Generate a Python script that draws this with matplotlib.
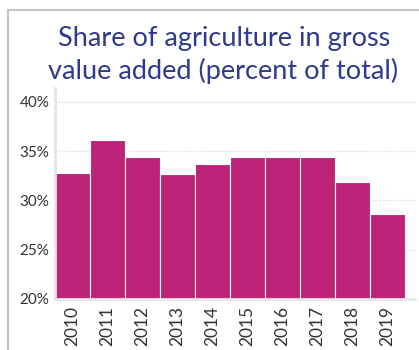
import matplotlib.pyplot as plt
from matplotlib.lines import Line2D

years = ["2010", "2011", "2012", "2013", "2014", "2015", "2016", "2017", "2018", "2019"]
share = [32.8, 36.1, 34.4, 32.7, 33.7, 34.4, 34.4, 34.4, 31.9, 28.6]
yticks = [20, 25, 30, 35, 40]

W, H = 419, 350
fig = plt.figure(figsize=(W / 100, H / 100), dpi=100)
plt.rcParams["font.family"] = ["Lato", "DejaVu Sans"]

# outer frame (left and top edges only)
fig.add_artist(Line2D([8 / W, 8 / W], [0, 1 - 10 / H], color="#c4c4c4", lw=1.5))
fig.add_artist(Line2D([8 / W, 1], [1 - 10 / H, 1 - 10 / H], color="#c4c4c4", lw=1.5))

fig.text(224 / W, 1 - 46 / H, "Share of agriculture in gross", ha="center",
         va="baseline", fontsize=19.5, color="#2e3a8c")
fig.text(223 / W, 1 - 79 / H, "value added (percent of total)", ha="center",
         va="baseline", fontsize=19.5, color="#2e3a8c")

ax = fig.add_axes([55 / W, 51 / H, 360 / W, 211 / H])
x = range(len(years))
ax.bar(x, [v - 20 for v in share], bottom=20, width=1.0, color="#bc2379",
       edgecolor="white", linewidth=0.8)
ax.set_xlim(-0.5, 9.79)
ax.set_ylim(20, 41.4)
ax.set_yticks(yticks)
ax.set_yticklabels([f"{t}%" for t in yticks])
ax.set_xticks(list(x))
ax.set_xticklabels(years, rotation=90)
ax.tick_params(axis="both", length=0, labelcolor="#333333")
ax.tick_params(axis="y", pad=4, labelsize=11)
ax.tick_params(axis="x", pad=5, labelsize=12.5)
ax.grid(axis="y", color="#dddddd", linestyle=(0, (1, 1)), linewidth=1)
ax.set_axisbelow(True)
for s in ["top", "right"]:
    ax.spines[s].set_visible(False)
for s in ["left", "bottom"]:
    ax.spines[s].set_color("#e6e6e6")
    ax.spines[s].set_linewidth(2)

fig.savefig("out.png", dpi=100)
